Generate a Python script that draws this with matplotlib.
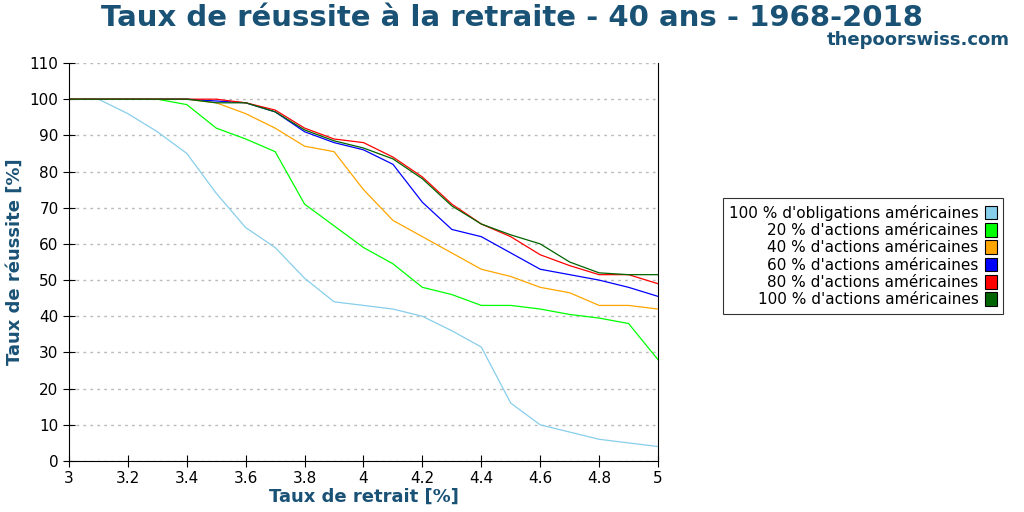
import matplotlib
matplotlib.use("Agg")
import matplotlib.pyplot as plt
import numpy as np

rates = [3.0,3.1,3.2,3.3,3.4,3.5,3.6,3.7,3.8,3.9,4.0,4.1,4.2,4.3,4.4,4.5,4.6,4.7,4.8,4.9,5.0]
bonds = [100,100,96,91,85,74,64.5,59,50.5,44,43,42,40,36,31.5,16,10,8,6,5,4]
s20 = [100,100,100,100,98.5,92,89,85.5,71,65,59,54.5,48,46,43,43,42,40.5,39.5,38,28]
s40 = [100,100,100,100,100,99,96,92,87,85.5,75,66.5,62,57.5,53,51,48,46.5,43,43,42]
s60 = [100,100,100,100,100,99.5,99,96.5,91,88,86,82,71.5,64,62,57.5,53,51.5,50,48,45.5]
s80 = [100,100,100,100,100,100,99,97,92,89,88,84,78.5,71,65.5,62,57,54,51.5,51.5,49]
s100 = [100,100,100,100,100,99,99,96.5,91.5,88.5,86.5,83.5,78,70.5,65.5,62.5,60,55,52,51.5,51.5]
labels = ["100 % d'obligations américaines","20 % d'actions américaines","40 % d'actions américaines",
          "60 % d'actions américaines","80 % d'actions américaines","100 % d'actions américaines"]
colors = ["#87ceeb","#00ff00","#ffa500","#0000ff","#ff0000","#006400"]

fig = plt.figure(figsize=(10.24,5.12), dpi=100)
ax = fig.add_axes([69/1024, 1-461/512, 589/1024, 398/512])
for ys,c,l in zip([bonds,s20,s40,s60,s80,s100],colors,labels):
    ax.plot(rates, ys, color=c, lw=0.9, label=l)
ax.set_xlim(3,5); ax.set_ylim(0,110)
ax.set_xticks(np.arange(3,5.01,0.2)); ax.set_xticklabels(["3","3.2","3.4","3.6","3.8","4","4.2","4.4","4.6","4.8","5"])
ax.set_yticks(range(0,111,10))
ax.yaxis.grid(True, ls=(0,(2,3)), color="#bbbbbb", lw=1)
ax.spines['top'].set_visible(False)
ax.tick_params(direction='inout', length=8, labelsize=11)
ax.set_xlabel("Taux de retrait [%]", color="#1a5276", fontsize=13, fontweight='bold', labelpad=1)
ax.set_ylabel("Taux de réussite [%]", color="#1a5276", fontsize=13, fontweight='bold')
fig.text(0.5, 0.965, "Taux de réussite à la retraite - 40 ans - 1968-2018", ha='center', va='center',
         fontsize=21, fontweight='bold', color="#1a5276")
fig.text(0.986, 0.922, "thepoorswiss.com", ha='right', va='center', fontsize=13, fontweight='bold', color="#1a5276")
h, l = ax.get_legend_handles_labels()
handles = [plt.Rectangle((0,0),1,1,fc=c,ec='black',lw=0.8) for c in colors]
leg = fig.legend(handles, labels, loc='center', bbox_to_anchor=(863/1024, 1-256/512), markerfirst=False,
                 fancybox=False, edgecolor='black', fontsize=11, handlelength=0.8, handleheight=1.0,
                 labelspacing=0.15, borderpad=0.4, handletextpad=0.4)
leg.get_frame().set_linewidth(0.8)
fig.savefig("out.png", dpi=100)
